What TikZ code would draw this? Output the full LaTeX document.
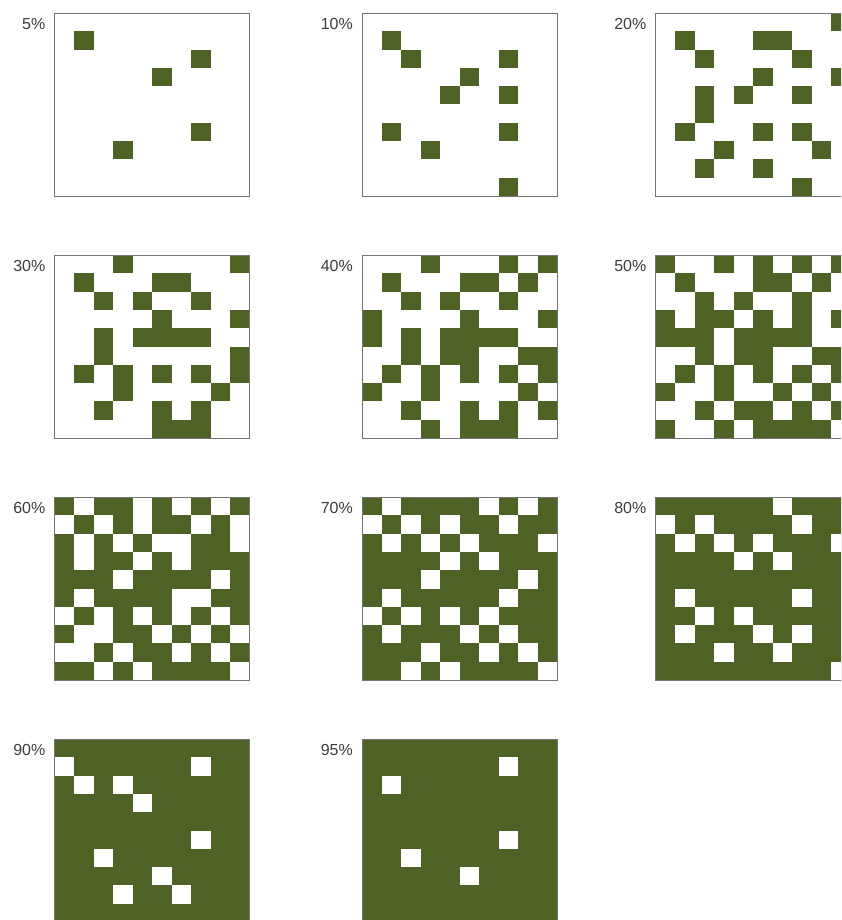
\documentclass[tikz,border=0pt]{standalone}
\usepackage{fontspec}
\setmainfont{Liberation Sans}
\usepackage{tikz}
\usetikzlibrary{calc}
\definecolor{olive}{RGB}{79,98,38}
\definecolor{labelgray}{RGB}{60,60,60}
\tikzset{
    panel/.style={rectangle, anchor=north west, minimum width=195pt, minimum height=183pt, inner sep=0pt, outer sep=0pt},
    frame/.style={draw=black!55, line width=0.9pt},
    pct/.style={anchor=base east, inner sep=0pt, text=labelgray, font=\fontsize{16}{18}\selectfont}
}
% one 10x10 panel: name, position, label, background, cell colour, cells as row/{columns}
\newcommand{\gridpanel}[6]{%
    \node[panel, fill=#4] (p#1) at (#2) {};
    \node[pct] (l#1) at ([xshift=-9pt, yshift=-16.5pt]p#1.north west) {#3};
    \foreach \r/\cs in {#6} {
        \foreach \c in \cs {
            \fill[#5] ([xshift=\c*19.5pt, yshift=-\r*18.3pt]p#1.north west) rectangle +(19.5pt,-18.3pt);
        }
    }
    \draw[frame] (p#1.north west) rectangle (p#1.south east);
}

\begin{document}
\begin{tikzpicture}
    \useasboundingbox (0,0) rectangle (841pt,-920pt);
    \clip (0,0) rectangle (841pt,-920pt);

    % first row: sparse patterns
    \gridpanel{5}{54.5pt,-13pt}{5\%}{white}{olive}
        {1/{1}, 2/{7}, 3/{5}, 6/{7}, 7/{3}}
    \gridpanel{10}{362pt,-13pt}{10\%}{white}{olive}
        {1/{1}, 2/{2,7}, 3/{5}, 4/{4,7}, 6/{1,7}, 7/{3}, 9/{7}}
    \gridpanel{20}{655.5pt,-13pt}{20\%}{white}{olive}
        {0/{9}, 1/{1,5,6}, 2/{2,7}, 3/{5,9}, 4/{2,4,7}, 5/{2}, 6/{1,5,7}, 7/{3,8}, 8/{2,5}, 9/{7}}

    % second row
    \gridpanel{30}{54.5pt,-255pt}{30\%}{white}{olive}
        {0/{3,9}, 1/{1,5,6}, 2/{2,4,7}, 3/{5,9}, 4/{2,4,5,6,7}, 5/{2,9}, 6/{1,3,5,7,9}, 7/{3,8}, 8/{2,5,7}, 9/{5,6,7}}
    \gridpanel{40}{362pt,-255pt}{40\%}{white}{olive}
        {0/{3,7,9}, 1/{1,5,6,8}, 2/{2,4,7}, 3/{0,5,9}, 4/{0,2,4,5,6,7}, 5/{2,4,5,8,9}, 6/{1,3,5,7,9}, 7/{0,3,8}, 8/{2,5,7,9}, 9/{3,5,6,7}}
    \gridpanel{50}{655.5pt,-255pt}{50\%}{white}{olive}
        {0/{0,3,5,7,9}, 1/{1,5,6,8}, 2/{2,4,7}, 3/{0,2,3,5,7,9}, 4/{0,1,2,4,5,6,7}, 5/{2,4,5,8,9}, 6/{1,3,5,7,9}, 7/{0,3,6,8}, 8/{2,4,5,7,9}, 9/{0,3,5,6,7,8}}

    % third row: white cells on green
    \gridpanel{60}{54.5pt,-497pt}{60\%}{olive}{white}
        {0/{1,4,6,8}, 1/{0,2,4,7,9}, 2/{1,3,5,6,9}, 3/{1,4,6}, 4/{3,8}, 5/{1,6,7}, 6/{0,2,4,6,8}, 7/{1,2,5,7,9}, 8/{0,1,3,6,8}, 9/{2,4,9}}
    \gridpanel{70}{362pt,-497pt}{70\%}{olive}{white}
        {0/{1,6,8}, 1/{0,2,4,7}, 2/{1,3,5,9}, 3/{4,6}, 4/{3,8}, 5/{1,7}, 6/{0,2,4,6}, 7/{1,5,7}, 8/{3,6,8}, 9/{2,4,9}}
    \gridpanel{80}{655.5pt,-497pt}{80\%}{olive}{white}
        {0/{6}, 1/{0,2,7}, 2/{1,3,5,9}, 3/{4,6}, 5/{1,7}, 6/{2,4}, 7/{1,5,7}, 8/{3,6}, 9/{9}}

    % last row
    \gridpanel{90}{54.5pt,-739pt}{90\%}{olive}{white}
        {1/{0,7}, 2/{1,3}, 3/{4}, 5/{7}, 6/{2}, 7/{5}, 8/{3,6}}
    \gridpanel{95}{362pt,-739pt}{95\%}{olive}{white}
        {1/{7}, 2/{1}, 5/{7}, 6/{2}, 7/{5}}
\end{tikzpicture}
\end{document}
